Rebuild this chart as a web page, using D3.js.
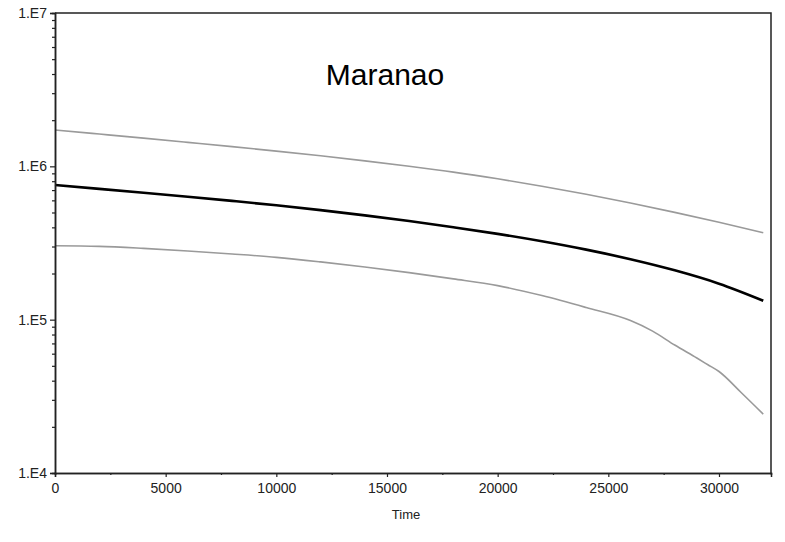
<!DOCTYPE html>
<html>
<head>
<meta charset="utf-8">
<script src="https://cdn.jsdelivr.net/npm/d3@7"></script>
<style>
  html, body { margin: 0; padding: 0; background: #fff; }
  svg { display: block; font-family: "Liberation Sans", Arial, sans-serif; }
</style>
</head>
<body>
<svg id="chart" width="785" height="542"></svg>
<script>
// Effective population size through time (Maranao): median and bounds
const time = [0, 2000, 4000, 6000, 8000, 10000, 12000, 14000, 16000, 18000,
              20000, 22000, 24000, 26000, 28000, 30000, 32000];
const median = [755000, 713000, 672600, 633500, 594900, 556900, 518000, 479000, 439800,
                400600, 362800, 324600, 286200, 247700, 209700, 171700, 133000];
const upper = [1725000, 1624000, 1528000, 1434000, 1345000, 1257000, 1171000, 1086000, 1001000,
               917000, 829000, 742000, 657000, 576000, 501000, 432000, 369000];
const timeLower = [0, 2000, 4000, 6000, 8000, 10000, 12000, 14000, 16000, 18000,
                   20000, 22000, 24000, 26000, 27000, 28000, 29000, 29500, 30000, 31000, 32000];
const lower = [303400, 300800, 291900, 280700, 268300, 255000, 238200, 220700, 202600, 184600,
               166700, 143600, 119900, 98600, 84200, 68300, 56200, 50800, 45900, 33500, 24200];

const xTicks = [0, 5000, 10000, 15000, 20000, 25000, 30000];
const xMinorTicks = [2500, 7500, 12500, 17500, 22500, 27500];
const yTicks = [1e4, 1e5, 1e6, 1e7];
const yTickLabels = ["1.E4", "1.E5", "1.E6", "1.E7"];
const title = "Maranao";
const xTitle = "Time";

const margin = { left: 55, right: 14, top: 13, bottom: 69 };
const W = 785, H = 542;
const svg = d3.select("#chart");

const x = d3.scaleLinear().domain([0, 32350]).range([margin.left, W - margin.right]);
const y = d3.scaleLog().domain([1e4, 1e7]).range([H - margin.bottom, margin.top]);

// minor log ticks 2..9 in every decade
const yMinor = [];
for (let d = 1e4; d < 1e7; d *= 10) for (let k = 2; k <= 9; k++) yMinor.push(d * k);

// frame: top and right edges
svg.append("path")
  .attr("d", `M${x.range()[0]},${y(1e7)}H${x.range()[1]}V${y(1e4)}`)
  .attr("fill", "none").attr("stroke", "#222").attr("stroke-width", 1.5);

// curves
const line = (xs) => d3.line()
  .x((d, i) => x(xs[i]))
  .y(d => y(d))
  .curve(d3.curveMonotoneX);

svg.append("path").datum(upper).attr("d", line(time))
  .attr("fill", "none").attr("stroke", "#9a9a9a").attr("stroke-width", 1.6);
svg.append("path").datum(lower).attr("d", line(timeLower))
  .attr("fill", "none").attr("stroke", "#9a9a9a").attr("stroke-width", 1.6);
svg.append("path").datum(median).attr("d", line(time))
  .attr("fill", "none").attr("stroke", "#000").attr("stroke-width", 2.6);

const styleAxis = (g) => {
  g.selectAll(".domain").attr("stroke", "#222").attr("stroke-width", 1.5);
  g.selectAll("line").attr("stroke", "#222").attr("stroke-width", 1.2);
  g.selectAll("text").attr("font-size", 14).attr("fill", "#222")
    .attr("font-family", "'Liberation Sans', Arial, sans-serif");
};

// y axis: minor ticks, then major ticks with labels
const gyMinor = svg.append("g").attr("transform", `translate(${margin.left},0)`)
  .call(d3.axisLeft(y).tickValues(yMinor).tickSize(3).tickFormat(""));
const gy = svg.append("g").attr("transform", `translate(${margin.left},0)`)
  .call(d3.axisLeft(y).tickValues(yTicks).tickSize(5).tickPadding(3)
    .tickFormat((d, i) => yTickLabels[i]));
styleAxis(gyMinor);
styleAxis(gy);

// x axis: minor ticks, then major ticks with labels
const gxMinor = svg.append("g").attr("transform", `translate(0,${H - margin.bottom})`)
  .call(d3.axisBottom(x).tickValues(xMinorTicks).tickSize(2).tickFormat(""));
const gx = svg.append("g").attr("transform", `translate(0,${H - margin.bottom})`)
  .call(d3.axisBottom(x).tickValues(xTicks).tickSize(4).tickPadding(6)
    .tickFormat(d3.format("d")));
styleAxis(gxMinor);
styleAxis(gx);

// titles
svg.append("text").attr("x", 385).attr("y", 85)
  .attr("text-anchor", "middle").attr("font-size", 30).attr("fill", "#000")
  .text(title);
svg.append("text").attr("x", 406).attr("y", 519)
  .attr("text-anchor", "middle").attr("font-size", 13).attr("fill", "#222")
  .text(xTitle);
</script>
</body>
</html>
